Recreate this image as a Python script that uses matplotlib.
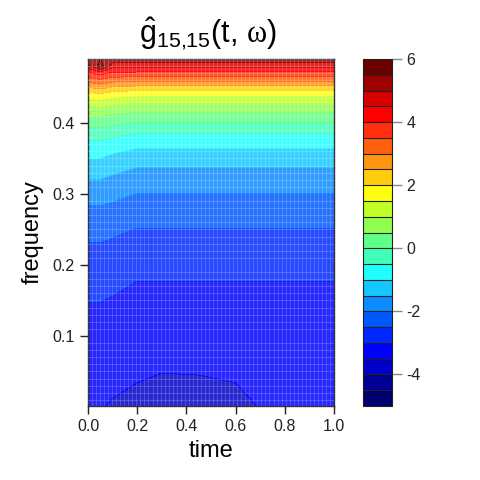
import numpy as np
import matplotlib
matplotlib.use("Agg")
import matplotlib.pyplot as plt
from matplotlib.colors import ListedColormap, BoundaryNorm
from matplotlib.cm import ScalarMappable
from matplotlib.ticker import MultipleLocator

plt.rcParams['font.family'] = ['Liberation Sans', 'DejaVu Sans']
plt.rcParams['mathtext.fontset'] = 'custom'
plt.rcParams['mathtext.rm'] = 'Liberation Sans'
plt.rcParams['mathtext.it'] = 'Liberation Sans'
plt.rcParams['mathtext.sf'] = 'Liberation Serif'
plt.rcParams['axes.unicode_minus'] = False

# ---- data -------------------------------------------------------------
times = [0.0, 0.05, 0.1, 0.2, 0.3, 0.45, 0.6, 0.7, 0.85, 1.0]
freqs = [0.0, 0.05, 0.10, 0.15, 0.18, 0.23, 0.25, 0.28, 0.30, 0.32, 0.34, 0.36,
         0.38, 0.39, 0.40, 0.41, 0.42, 0.43, 0.44, 0.45, 0.46, 0.47, 0.48, 0.49, 0.495]

# rows = frequencies, columns = times
g_hat = np.array([
    # t=0.0  0.05   0.1    0.2    0.3    0.45   0.6    0.7    0.85   1.0
    [-3.40, -3.47, -3.56, -3.65, -3.70, -3.68, -3.65, -3.48, -3.42, -3.40],  # 0.00
    [-3.30, -3.30, -3.31, -3.43, -3.49, -3.48, -3.43, -3.36, -3.34, -3.33],  # 0.05
    [-3.15, -3.15, -3.19, -3.25, -3.25, -3.25, -3.25, -3.25, -3.25, -3.25],  # 0.10
    [-2.99, -2.99, -3.03, -3.10, -3.10, -3.10, -3.10, -3.10, -3.10, -3.10],  # 0.15
    [-2.81, -2.81, -2.87, -2.99, -2.99, -2.99, -2.99, -2.99, -2.99, -2.99],  # 0.18
    [-2.51, -2.51, -2.56, -2.65, -2.65, -2.65, -2.65, -2.65, -2.65, -2.65],  # 0.23
    [-2.33, -2.33, -2.40, -2.52, -2.52, -2.52, -2.52, -2.52, -2.52, -2.52],  # 0.25
    [-2.04, -2.04, -2.10, -2.21, -2.21, -2.21, -2.21, -2.21, -2.21, -2.21],  # 0.28
    [-1.78, -1.78, -1.86, -2.01, -2.01, -2.01, -2.01, -2.01, -2.01, -2.01],  # 0.30
    [-1.51, -1.51, -1.60, -1.74, -1.74, -1.74, -1.74, -1.74, -1.74, -1.74],  # 0.32
    [-1.19, -1.19, -1.29, -1.46, -1.46, -1.46, -1.46, -1.46, -1.46, -1.46],  # 0.34
    [-0.83, -0.83, -0.93, -1.09, -1.09, -1.09, -1.09, -1.09, -1.09, -1.09],  # 0.36
    [-0.39, -0.39, -0.48, -0.64, -0.64, -0.64, -0.64, -0.64, -0.64, -0.64],  # 0.38
    [-0.11, -0.10, -0.21, -0.37, -0.37, -0.37, -0.37, -0.37, -0.37, -0.37],  # 0.39
    [0.19, 0.22, 0.11, -0.03, -0.03, -0.03, -0.03, -0.03, -0.03, -0.03],     # 0.40
    [0.50, 0.55, 0.43, 0.31, 0.31, 0.31, 0.31, 0.31, 0.31, 0.31],            # 0.41
    [0.86, 0.92, 0.79, 0.67, 0.67, 0.67, 0.67, 0.67, 0.67, 0.67],            # 0.42
    [1.27, 1.35, 1.21, 1.10, 1.10, 1.10, 1.10, 1.10, 1.10, 1.10],            # 0.43
    [1.78, 1.90, 1.71, 1.60, 1.60, 1.60, 1.60, 1.60, 1.60, 1.60],            # 0.44
    [2.50, 2.65, 2.44, 2.33, 2.33, 2.33, 2.33, 2.33, 2.33, 2.33],            # 0.45
    [3.20, 3.40, 3.18, 3.14, 3.14, 3.14, 3.14, 3.14, 3.14, 3.14],            # 0.46
    [3.93, 4.20, 3.90, 3.86, 3.86, 3.86, 3.86, 3.86, 3.86, 3.86],            # 0.47
    [4.75, 5.75, 4.70, 4.68, 4.68, 4.68, 4.68, 4.68, 4.68, 4.68],            # 0.48
    [5.40, 5.50, 5.35, 5.30, 5.30, 5.30, 5.30, 5.30, 5.30, 5.30],            # 0.49
    [5.60, 5.45, 5.55, 5.55, 5.55, 5.55, 5.55, 5.55, 5.55, 5.55],            # 0.495
])

levels = np.arange(-5.0, 6.01, 0.5)
level_colors = ['#00006e', '#000096', '#0000c8', '#0000ff', '#0028ff', '#0058ff',
                '#0a8cff', '#14c8ff', '#20ffff', '#40ffb8', '#60ff88', '#90ff50',
                '#c0ff28', '#ffff10', '#ffcc10', '#ff9410', '#ff6010', '#ff3010',
                '#ff0000', '#d80000', '#a00000', '#6a0000']
x_ticks = [0.0, 0.2, 0.4, 0.6, 0.8, 1.0]
y_ticks = [0.1, 0.2, 0.3, 0.4]
cbar_ticks = [-4, -2, 0, 2, 4, 6]

# ---- figure -----------------------------------------------------------
W = H = 480
fig = plt.figure(figsize=(4.8, 4.8), dpi=100)
ax = fig.add_axes([88 / W, (H - 406) / H, 246 / W, 347 / H])

cmap = ListedColormap(level_colors)
norm = BoundaryNorm(levels, cmap.N)
ax.contourf(times, freqs, g_hat, levels=levels, cmap=cmap, norm=norm, alpha=0.85)

ax.set_xlim(0, 1)
ax.set_ylim(0.0014, 0.49)
ax.set_xticks(x_ticks)
ax.set_xticklabels([f"{v:.1f}" for v in x_ticks])
ax.set_yticks(y_ticks)
ax.set_yticklabels([f"{v:.1f}" for v in y_ticks])
ax.tick_params(which='major', direction='out', length=6, width=1, labelsize=11.5,
               colors='#222222')
ax.xaxis.set_minor_locator(MultipleLocator(1 / 61))
ax.yaxis.set_minor_locator(MultipleLocator(0.01))
ax.tick_params(which='minor', length=0)
ax.set_axisbelow(False)
ax.grid(which='minor', color='white', alpha=0.18, lw=0.8)
ax.grid(which='major', visible=False)
for s in ax.spines.values():
    s.set_linewidth(1.0)
    s.set_color('#333333')

ax.set_xlabel('time', fontsize=17, labelpad=4)
ax.set_ylabel('frequency', fontsize=17, labelpad=6)

fig.text(208 / W, 1 - 34 / H, r'$\hat{g}_{15{,}15}(t{,}\ \mathsf{\omega})$',
         ha='center', va='center', fontsize=22)

# colorbar
cax = fig.add_axes([363 / W, (H - 406) / H, 29 / W, 347 / H])
sm = ScalarMappable(norm=norm, cmap=cmap)
cb = fig.colorbar(sm, cax=cax, ticks=cbar_ticks, drawedges=True)
cb.dividers.set_color('#222222')
cb.dividers.set_linewidth(0.8)
cb.outline.set_linewidth(0.8)
cb.outline.set_edgecolor('#222222')
cax.minorticks_off()
cax.set_yticks(cbar_ticks)
cax.set_yticklabels([str(v) for v in cbar_ticks])
cax.tick_params(direction='out', length=7, width=1, labelsize=11.5, colors='#222222')
cax.tick_params(axis='y', color='#888888')

fig.savefig('out.png', dpi=100)
